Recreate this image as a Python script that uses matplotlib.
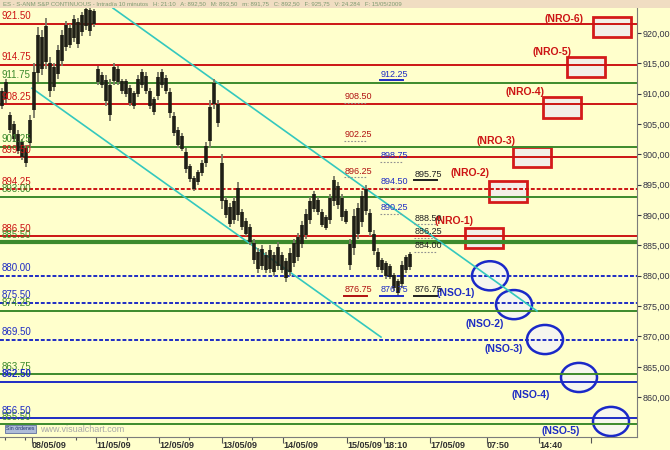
import matplotlib
matplotlib.use("Agg")
import matplotlib.pyplot as plt
from matplotlib.patches import Rectangle, Ellipse

plt.rcParams["font.family"] = ["Liberation Sans", "DejaVu Sans"]

BG = "#FFFFCC"
RED = "#CC1414"
GREEN = "#3C8A2C"
BLUE = "#1E2CC4"
CYAN = "#34C8BE"

# 10-minute bars, one slot each (high / low)
bar_highs = [911.0, 912.5, 907.0, 905.5, 904.0, 902.5, 901.5, 906.5, 915.0, 921.0,
             920.5, 922.5, 916.0, 915.0, 918.0, 920.5, 922.0, 921.5, 923.0, 922.5,
             923.5, 924.5, 924.5, 924.0, 914.5, 913.5, 913.0, 912.5, 915.0, 914.5,
             912.5, 912.5, 911.5, 910.5, 913.0, 914.0, 913.5, 911.0, 909.5, 913.5,
             914.0, 913.0, 911.0, 907.0, 904.5, 903.5, 901.0, 898.5, 896.5, 897.5,
             899.0, 902.0, 909.0, 912.5, 909.0, 900.0, 893.0, 892.0, 893.0, 895.5,
             891.0, 889.5, 888.5, 886.0, 884.5, 885.0, 884.0, 885.0, 884.0, 885.5,
             884.0, 883.0, 884.5, 886.0, 887.0, 889.0, 891.0, 893.0, 894.0, 893.0,
             891.0, 890.0, 893.5, 896.5, 895.5, 893.5, 891.0, 886.0, 891.0, 892.0,
             894.0, 895.0, 891.0, 887.5, 884.5, 883.0, 882.5, 882.0, 880.5, 879.5,
             882.5, 883.5, 884.0]
bar_lows = [907.5, 908.5, 903.5, 902.0, 900.0, 899.0, 898.0, 901.0, 906.0, 912.0,
            913.0, 914.0, 909.5, 910.5, 912.5, 914.5, 917.0, 917.5, 918.5, 917.5,
            919.5, 920.5, 919.5, 921.0, 911.5, 911.0, 908.0, 905.5, 911.5, 911.5,
            910.0, 909.5, 908.0, 907.5, 909.5, 911.0, 910.0, 907.5, 906.5, 909.0,
            911.0, 910.0, 906.0, 903.0, 901.0, 900.5, 897.0, 895.5, 894.0, 895.0,
            896.5, 898.0, 901.0, 907.5, 904.5, 891.0, 889.5, 888.0, 888.5, 889.0,
            887.5, 886.5, 885.0, 882.0, 880.5, 881.0, 880.5, 880.5, 880.0, 881.0,
            880.5, 879.0, 880.0, 881.5, 882.5, 884.5, 886.0, 888.5, 890.5, 890.0,
            888.0, 887.5, 888.5, 891.5, 891.0, 889.0, 888.5, 881.0, 883.5, 886.0,
            888.0, 890.0, 886.5, 883.5, 881.0, 880.5, 879.5, 879.5, 877.5, 876.75,
            878.0, 880.5, 881.0]

# pivot levels drawn across the chart
red_levels = [921.50, 914.75, 908.25, 899.50, 894.25, 886.50]
green_levels = [911.75, 901.25, 893.00, 885.50, 874.25, 863.75, 855.50]
blue_levels = [880.00, 875.50, 869.50, 862.50, 856.50]

# channel lines (slot, price)
upper_channel = [(27.75, 924.1), (133.75, 874.2)]
lower_channel = [(7.5, 910.9), (94.75, 869.9)]

# projected resistance boxes / support ellipses
nro_names = ["(NRO-1)", "(NRO-2)", "(NRO-3)", "(NRO-4)", "(NRO-5)", "(NRO-6)"]
nro_slots = [120.5, 126.5, 132.5, 140.0, 146.0, 152.5]
nro_prices = [886.2, 893.9, 899.6, 907.75, 914.4, 921.0]
nro_label_slots = [113.1, 117.0, 123.6, 130.75, 137.5, 140.6]
nro_label_prices = [889.0, 896.9, 902.2, 910.3, 916.9, 922.3]

nso_names = ["(NSO-1)", "(NSO-2)", "(NSO-3)", "(NSO-4)", "(NSO-5)"]
nso_slots = [122.0, 128.0, 135.75, 144.25, 152.25]
nso_prices = [880.0, 875.25, 869.5, 863.25, 856.0]
nso_label_slots = [113.4, 120.75, 125.5, 132.25, 139.6]
nso_label_prices = [877.2, 872.1, 867.9, 860.4, 854.4]

# value notes in the middle of the chart
red_notes = [908.50, 902.25, 896.25, 876.75]
blue_notes = [912.25, 898.75, 894.50, 890.25, 876.75]
black_notes = [895.75, 888.50, 886.25, 884.00, 876.75]

tick_pos = [7.5, 23.5, 39.25, 55.0, 70.25, 86.25, 95.5, 107.0, 121.25, 134.25, 147.25]
tick_labels = ["08/05/09", "11/05/09", "12/05/09", "13/05/09", "14/05/09",
               "15/05/09", "18:10", "17/05/09", "07:50", "14:40", ""]
minor_pos = [0.75, 5.75, 18.5, 31.25, 46.75, 62.5]
price_ticks = [860, 865, 870, 875, 880, 885, 890, 895, 900, 905, 910, 915, 920]

fig = plt.figure(figsize=(6.7, 4.5), dpi=100, facecolor=BG)
ax = fig.add_axes([0, 13 / 450, 637 / 670, 429 / 450], facecolor=BG)
ax.set_xlim(-0.5, 158.75)
ax.set_ylim(853.44, 924.12)

# level lines with their left-hand labels
for levels, colour in [(red_levels, RED), (green_levels, GREEN), (blue_levels, BLUE)]:
    for lvl in levels:
        lw = 3.0 if lvl == 885.50 else 1.4
        ls = (0, (2, 1)) if lvl in (894.25, 880.00, 875.50, 869.50) else "-"
        ax.axhline(lvl, color=colour, lw=lw, ls=ls, zorder=2)
        weight = "bold" if lvl == 862.50 else "normal"
        ax.text(0.0, lvl + 0.45, f"{lvl:.2f}", color=colour, fontsize=7,
                fontweight=weight, ha="left", va="bottom", zorder=6)

# channel
for line in (upper_channel, lower_channel):
    ax.plot([p[0] for p in line], [p[1] for p in line], color=CYAN, lw=1.2, zorder=3)

# bars
slots = list(range(len(bar_highs)))
ax.vlines(slots, bar_lows, bar_highs, color="#7a7a64", lw=1.3, zorder=4)
ax.vlines(slots, [l + 0.15 * (h - l) for h, l in zip(bar_highs, bar_lows)],
          [h - 0.15 * (h - l) for h, l in zip(bar_highs, bar_lows)],
          color="#1f1f16", lw=2.6, zorder=4)

# resistance boxes
for name, s, p, ls_, lp in zip(nro_names, nro_slots, nro_prices, nro_label_slots, nro_label_prices):
    ax.add_patch(Rectangle((s - 4.75, p - 1.7), 9.5, 3.4, facecolor="#F2EEE8",
                           edgecolor="#D41A1A", lw=2.0, zorder=1))
    ax.text(ls_, lp, name, color=RED, fontsize=7.5, fontweight="bold",
            ha="center", va="center", zorder=6)

# support ellipses
for name, s, p, ls_, lp in zip(nso_names, nso_slots, nso_prices, nso_label_slots, nso_label_prices):
    ax.add_patch(Ellipse((s, p), 9.0, 4.8, facecolor="#F6F6EE",
                         edgecolor="#1A28C8", lw=1.8, zorder=1))
    ax.text(ls_, lp, name, color=BLUE, fontsize=7.5, fontweight="bold",
            ha="center", va="center", zorder=6)

# value notes
for col, notes, colour in [(85.75, red_notes, "#B01010"), (94.75, blue_notes, BLUE),
                           (103.25, black_notes, "#202020")]:
    for v in notes:
        ax.text(col, v + 0.25, f"{v:.2f}", color=colour, fontsize=6.5,
                ha="left", va="bottom", zorder=6)
        solid = v in (912.25, 895.75, 876.75)
        ax.plot([col - 0.3, col + 5.6], [v, v], color=colour if solid else "#909090",
                lw=1.4 if solid else 0.8, ls="-" if solid else (0, (1.5, 1.5)), zorder=6)

# axes
for side in ("top", "left"):
    ax.spines[side].set_visible(False)
for side in ("right", "bottom"):
    ax.spines[side].set_color("#7c7c7c")
    ax.spines[side].set_linewidth(0.8)
ax.yaxis.tick_right()
ax.set_yticks(price_ticks)
ax.set_yticklabels([f"{t:.2f}".replace(".", ",") for t in price_ticks])
ax.tick_params(axis="y", direction="out", length=3, width=0.8, pad=1,
               labelsize=6.5, colors="#333344")
ax.set_xticks(tick_pos)
ax.set_xticklabels(tick_labels, ha="left", fontsize=6.5, fontweight="bold", color="#303030")
ax.set_xticks(minor_pos, minor=True)
ax.tick_params(axis="x", which="major", direction="out", length=4, width=0.8,
               pad=-1.2, color="#555555")
ax.tick_params(axis="x", which="minor", direction="out", length=2, width=0.8, color="#555555")

# header band
fig.patches.append(Rectangle((0, 442 / 450), 1, 8 / 450, transform=fig.transFigure,
                             facecolor="#F0DDC2", edgecolor="none", zorder=0))
fig.text(0.004, 1 - 4 / 450,
         "ES - S-ANM S&P CONTINUOUS - Intradía 10 minutos   H: 21:10   A: 892,50   "
         "M: 893,50   m: 891,75   C: 892,50   F: 925,75   V: 24.284   F: 15/05/2009",
         fontsize=4.3, color="#7E9A70", va="center", ha="left")

fig.text(6 / 670, 1 - 429 / 450, "Sin órdenes", fontsize=3.8, color="#203070",
         va="center", ha="left",
         bbox=dict(boxstyle="square,pad=0.25", facecolor="#AEBCD8", edgecolor="#6070A0", lw=0.6))
fig.text(40 / 670, 1 - 429 / 450, "www.visualchart.com", fontsize=6.5,
         color="#A8A8A8", va="center", ha="left")

fig.savefig("out.png", dpi=100, facecolor=BG)
